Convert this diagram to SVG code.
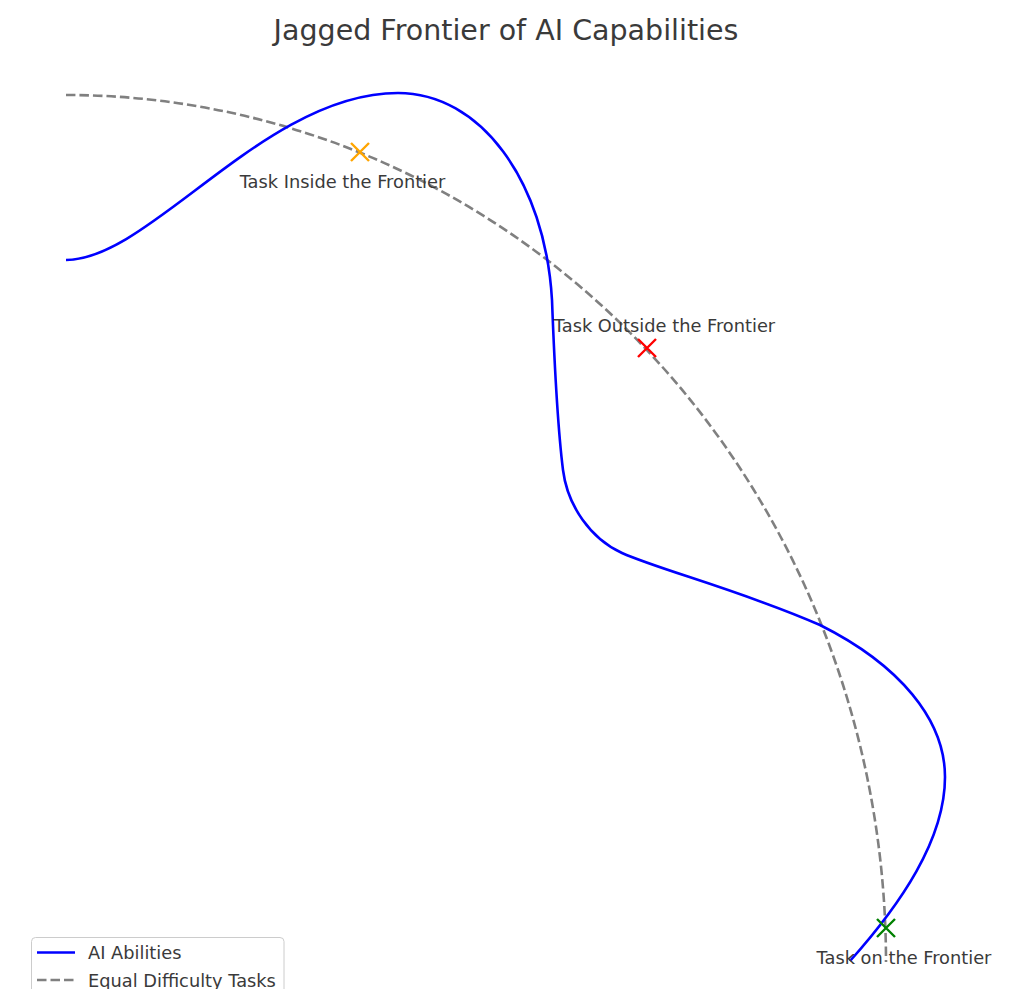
<svg xmlns="http://www.w3.org/2000/svg" width="1011" height="989" viewBox="0 0 1011 989">
<style>
text{font-family:"DejaVu Sans","Liberation Sans",sans-serif;fill:#3a3a3a}
.lbl{font-size:17.8px;text-anchor:middle}
.ai{fill:none;stroke:#0000ff;stroke-width:2.6;stroke-linecap:butt}
.eq{fill:none;stroke:#808080;stroke-width:2.6;stroke-dasharray:9.5,4}
.mk{stroke-width:2.4;fill:none}
</style>
<rect width="1011" height="989" fill="#ffffff"/>
<text x="506" y="40" font-size="28.5" text-anchor="middle">Jagged Frontier of AI Capabilities</text>
<g id="connectors">
<path id="equal-difficulty" class="eq" d="M66,95 A820,867 0 0 1 886,962"/>
<path id="ai-abilities" class="ai" d="M66,260 C150,260 265,93 398,93 C480,93 545,180 552,300 C555,380 558,430 563,470 C567.5,506 591,539 622,553 C660,570 740,590 820,625 C900,665 945,720 945,777 C945,840 900,905 850,961"/>
</g>
<g id="task-inside">
<path class="mk" stroke="#ffa500" d="M351,143 L369,161 M369,143 L351,161"/>
<text class="lbl" x="342.5" y="188">Task Inside the Frontier</text>
</g>
<g id="task-outside">
<path class="mk" stroke="#ff0000" d="M638,339 L656,357 M656,339 L638,357"/>
<text class="lbl" x="664.5" y="332">Task Outside the Frontier</text>
</g>
<g id="task-on">
<path class="mk" stroke="#008000" d="M877,919 L895,937 M895,919 L877,937"/>
<text class="lbl" x="904" y="964">Task on the Frontier</text>
</g>
<g id="legend">
<rect x="31.5" y="937.5" width="252.5" height="70" rx="4" fill="#ffffff" fill-opacity="0.8" stroke="#cccccc" stroke-width="1"/>
<line x1="37" y1="952.5" x2="75" y2="952.5" stroke="#0000ff" stroke-width="2.6"/>
<text x="88" y="959" font-size="17.8">AI Abilities</text>
<line x1="37" y1="980" x2="75" y2="980" class="eq"/>
<text x="88" y="986.5" font-size="17.8">Equal Difficulty Tasks</text>
</g>
</svg>
